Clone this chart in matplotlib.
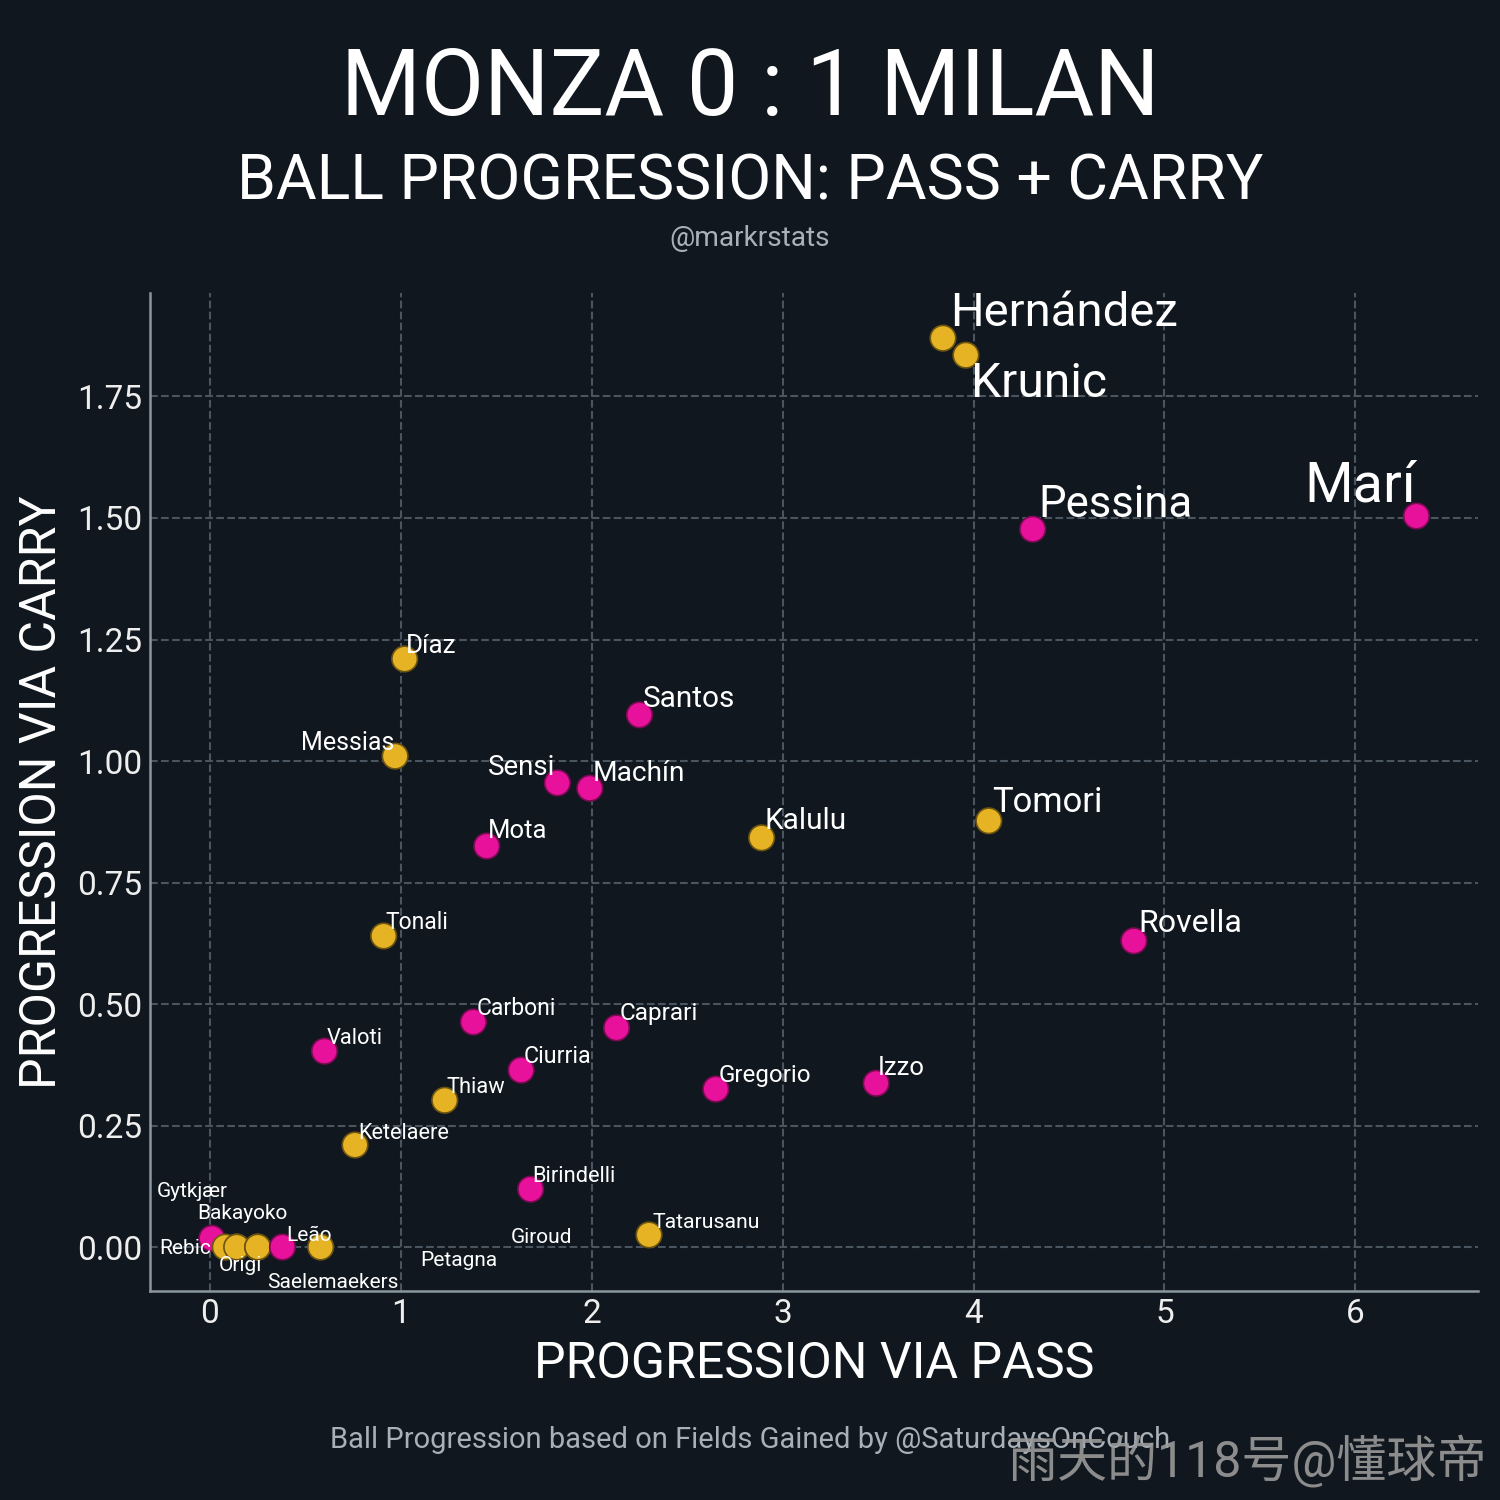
import numpy as np
import matplotlib
matplotlib.use("Agg")
import matplotlib.pyplot as plt

plt.rcParams['font.family'] = ['Roboto', 'Noto Sans CJK SC', 'DejaVu Sans']

BG = '#10171e'
PINK = '#e8119b'
GOLD = '#e6b325'

# player data: progression via pass (x), via carry (y), team
players = ['Hernández', 'Krunic', 'Pessina', 'Marí', 'Díaz', 'Santos', 'Messias',
           'Sensi', 'Machín', 'Mota', 'Kalulu', 'Tomori', 'Rovella', 'Tonali',
           'Carboni', 'Caprari', 'Valoti', 'Ciurria', 'Thiaw', 'Gregorio', 'Izzo',
           'Ketelaere', 'Birindelli', 'Tatarusanu', 'Gytkjær', 'Bakayoko', 'Rebic',
           'Origi', 'Leão', 'Saelemaekers', 'Giroud', 'Petagna']
pass_prog = [3.84, 3.96, 4.31, 6.32, 1.02, 2.25, 0.97,
             1.82, 1.99, 1.45, 2.89, 4.08, 4.84, 0.91,
             1.38, 2.13, 0.60, 1.63, 1.23, 2.65, 3.49,
             0.76, 1.68, 2.30, 0.01, 0.14, 0.08,
             0.14, 0.58, 0.25, 0.25, 0.38]
carry_prog = [1.87, 1.835, 1.477, 1.504, 1.21, 1.095, 1.01,
              0.955, 0.944, 0.825, 0.842, 0.877, 0.630, 0.640,
              0.463, 0.451, 0.403, 0.364, 0.302, 0.325, 0.337,
              0.210, 0.119, 0.025, 0.018, 0.0, 0.0,
              0.0, 0.0, 0.0, 0.0, 0.0]
team = ['Milan', 'Milan', 'Monza', 'Monza', 'Milan', 'Monza', 'Milan',
        'Monza', 'Monza', 'Monza', 'Milan', 'Milan', 'Monza', 'Milan',
        'Monza', 'Monza', 'Monza', 'Monza', 'Milan', 'Monza', 'Monza',
        'Milan', 'Monza', 'Milan', 'Monza', 'Milan', 'Milan',
        'Milan', 'Milan', 'Milan', 'Milan', 'Monza']

# label layout: offset from dot in pixels (right, up) and font size
lab_dx = [7, 5, 6, -112, 1, 3, -94,
          -69, 3, 1, 3, 3, 4, 2,
          3, 3, 2, 3, 2, 3, 2,
          3, 2, 3, -55, -39, -66,
          -18, -34, 9, 253, 138]
lab_dy = [12, -42, 12, 15, 6, 8, 6,
          8, 7, 8, 9, 9, 9, 7,
          7, 8, 7, 7, 7, 7, 8,
          6, 7, 7, 41, 28, -7,
          -24, 6, -41, 4, -19]
lab_fs = [22.7, 23, 21, 26.7, 12.5, 14.3, 12,
          13.3, 13.5, 12.3, 14.3, 16.6, 15.4, 11,
          11, 11.7, 10.5, 11.2, 10.5, 11.6, 12.3,
          10.4, 10.5, 10.2, 10, 10, 10,
          10, 10, 10, 10, 10]

fig = plt.figure(figsize=(10, 10), dpi=150, facecolor=BG)
ax = fig.add_axes([0.1, 0.1393, 0.885, 0.6654])
ax.set_facecolor(BG)

colors = [PINK if t == 'Monza' else GOLD for t in team]
edges = ['#7a0a52' if t == 'Monza' else '#6b5410' for t in team]
ax.scatter(pass_prog, carry_prog, s=150, c=colors, edgecolors=edges,
           linewidths=0.8, zorder=3)

px2pt = 72 / 150
for i, name in enumerate(players):
    ax.annotate(name, (pass_prog[i], carry_prog[i]),
                xytext=(lab_dx[i] * px2pt, lab_dy[i] * px2pt),
                textcoords='offset points', ha='left', va='baseline',
                fontsize=lab_fs[i], color='white', zorder=4)

ax.set_xlim(-0.314, 6.64)
ax.set_ylim(-0.0905, 1.963)
ax.set_xticks([0, 1, 2, 3, 4, 5, 6])
ax.set_yticks([0, 0.25, 0.5, 0.75, 1.0, 1.25, 1.5, 1.75])
ax.set_yticklabels(['0.00', '0.25', '0.50', '0.75', '1.00', '1.25', '1.50', '1.75'])
ax.tick_params(colors='#eeeeee', labelsize=16, length=0, pad=3.5)
ax.grid(True, linestyle='--', color='#4a5560', linewidth=1.0, zorder=0)
ax.set_axisbelow(True)
for s in ['top', 'right']:
    ax.spines[s].set_visible(False)
for s in ['left', 'bottom']:
    ax.spines[s].set_color('#8a96a0')
    ax.spines[s].set_linewidth(1.2)

fig.text(0.5427, 0.0813, 'PROGRESSION VIA PASS', ha='center', va='baseline',
         fontsize=24, color='white')
fig.text(0.028, 0.472, 'PROGRESSION VIA CARRY', ha='center', va='center',
         rotation=90, fontsize=24, color='white')

fig.text(0.5, 0.923, 'MONZA 0 : 1 MILAN', ha='center', va='baseline',
         fontsize=44, color='white')
fig.text(0.5, 0.867, 'BALL PROGRESSION: PASS + CARRY', ha='center', va='baseline',
         fontsize=30, color='white')
fig.text(0.5, 0.836, '@markrstats', ha='center', va='baseline',
         fontsize=13.5, color='#a8b0b8')
fig.text(0.5, 0.035, 'Ball Progression based on Fields Gained by @SaturdaysOnCouch',
         ha='center', va='baseline', fontsize=14, color='#a8b0b8')
fig.text(0.991, 0.015, '雨天的118号@懂球帝', ha='right', va='baseline',
         fontsize=24, color='#9a9a9a', alpha=0.9)

fig.savefig('out.png', dpi=150, facecolor=BG)
